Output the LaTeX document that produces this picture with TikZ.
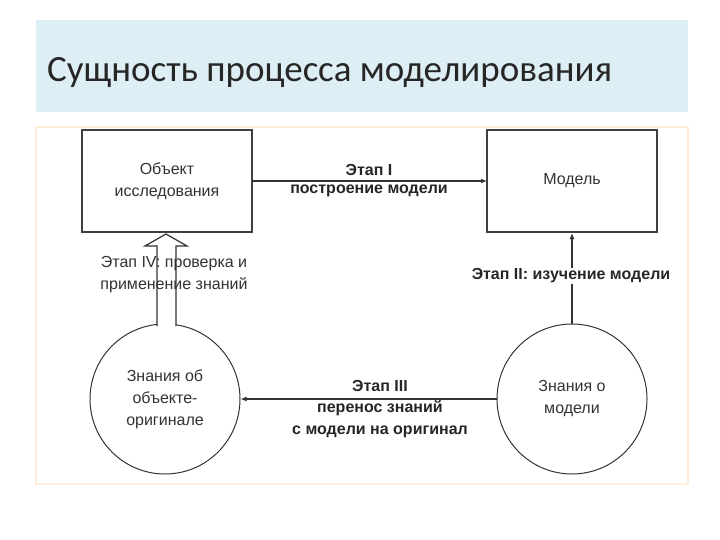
\documentclass[tikz,border=0pt]{standalone}
\usepackage{fontspec}
\usetikzlibrary{arrows.meta}
\setmainfont{Liberation Sans}
\newfontfamily\titlefont{Carlito}
\definecolor{band}{RGB}{222,238,245}
\begin{document}
\begin{tikzpicture}[x=1pt,y=-1pt,
  box/.style={draw=black!75,line width=1.6pt,fill=white},
  circ/.style={draw=black!80,line width=1pt,circle,fill=white},
  conn/.style={draw=black!80,line width=1.4pt,-{Latex[length=6pt,width=5pt]}},
  lbl/.style={font=\fontsize{16}{22}\selectfont\bfseries,align=center,text=black!85},
  txt/.style={font=\fontsize{16}{22}\selectfont,align=center,text=black!80}]
\useasboundingbox (0,0) rectangle (720,540);
\fill[white] (0,0) rectangle (720,540);
\fill[band] (36,20) rectangle (688,112);
\node[anchor=base west,inner sep=0pt,font=\titlefont\fontsize{37}{40}\selectfont,text=black!85] (title) at (47,82) {Сущность процесса моделирования};
\draw[orange!15,line width=1.5pt] (36,127) rectangle (688,484);
\draw[box] (82,130) rectangle (252,232);
\node[txt] (obj) at (167,181) {Объект\\исследования};
\draw[box] (487,130) rectangle (657,232);
\node[txt] (mod) at (572,181) {Модель};
\node[circ,minimum size=150pt] (kl) at (165,399) {};
\node[txt] at (kl.center) {Знания об\\объекте-\\оригинале};
\node[circ,minimum size=150pt] (kr) at (572,399) {};
\node[txt] at (kr.center) {Знания о\\модели};
\coordinate (b1r) at (252,181); \coordinate (b2l) at (487,181);
\coordinate (b2b) at (572,233);
\draw[conn] (b1r) -- (b2l);
\node[lbl] at (369,170) {Этап I};
\node[lbl] at (369,191) {построение модели};
\draw[conn] (kr.north) -- (b2b);
\node[lbl,fill=white,inner sep=1pt] at (571,276) {Этап II: изучение модели};
\draw[conn] (kr.west) -- (kl.east);
\node[lbl] at (380,386) {Этап III};
\node[lbl] at (380,419) {перенос знаний\\с модели на оригинал};
\draw[black!80,line width=1.2pt,fill=white,line join=miter] (157,326) -- (157,246) -- (145,246) -- (166,234) -- (187,246) -- (176,246) -- (176,326);
\node[txt] at (174,275) {Этап IV: проверка и\\применение знаний};
\end{tikzpicture}
\end{document}
